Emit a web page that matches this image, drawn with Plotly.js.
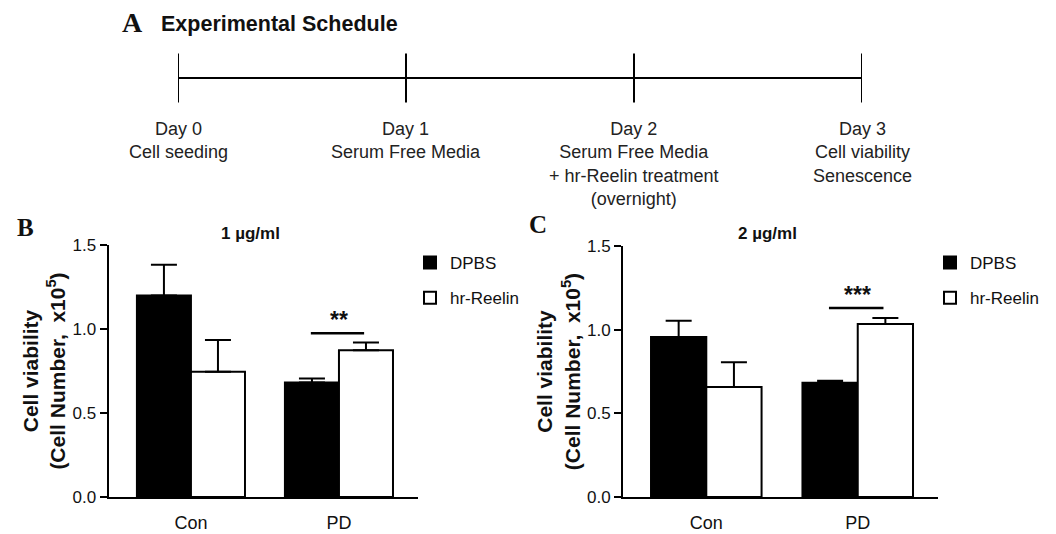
<!DOCTYPE html>
<html>
<head>
<meta charset="utf-8">
<script src="https://cdn.plot.ly/plotly-3.0.1.min.js"></script>
<style>
html,body{margin:0;padding:0;background:#fff;}
#chart{width:1056px;height:534px;}
</style>
</head>
<body>
<div id="chart"></div>
<script>
// ---------- DATA ----------
const days = [0, 1, 2, 3];
const dayLabels = ["Day 0", "Day 1", "Day 2", "Day 3"];
const dayDescriptions = [
  "Cell seeding",
  "Serum Free Media",
  "Serum Free Media<br>+ hr-Reelin treatment<br>(overnight)",
  "Cell viability<br>Senescence"
];
const categories = ["Con", "PD"];
const seriesNames = ["DPBS", "hr-Reelin"];

// Panel B: 1 µg/ml
const b_dpbs = [1.20, 0.681];
const b_dpbs_err = [0.183, 0.024];
const b_reelin = [0.745, 0.873];
const b_reelin_err = [0.189, 0.047];

// Panel C: 2 µg/ml
const c_dpbs = [0.956, 0.683];
const c_dpbs_err = [0.097, 0.012];
const c_reelin = [0.657, 1.034];
const c_reelin_err = [0.149, 0.036];

const yTickVals = [0, 0.5, 1.0, 1.5];
const yTickText = ["0.0", "0.5", "1.0", "1.5"];

// significance marks: category, height of line, label
const sigB = {cat: "PD", y: 0.975, label: "**"};
const sigC = {cat: "PD", y: 1.13, label: "***"};

// ---------- STYLE ----------
const SANS = "Liberation Sans, Arial, sans-serif";
const SERIF = "Liberation Serif, Times New Roman, serif";
const TXT = "#111";

function bar(y, err, name, fill, xa, ya, legend, group) {
  return {
    type: "bar", x: categories, y: y, name: name,
    xaxis: xa, yaxis: ya, legend: legend, legendgroup: group,
    marker: {color: fill, line: {color: "#000", width: 2}},
    error_y: {type: "data", symmetric: false, array: err,
              arrayminus: err.map(() => 0), color: "#000", thickness: 2, width: 13},
    hoverinfo: "skip"
  };
}

const traces = [
  bar(b_dpbs, b_dpbs_err, seriesNames[0], "#000", "x", "y", "legend", "g1"),
  bar(b_reelin, b_reelin_err, seriesNames[1], "#fff", "x", "y", "legend", "g2"),
  bar(c_dpbs, c_dpbs_err, seriesNames[0], "#000", "x2", "y2", "legend2", "g1"),
  bar(c_reelin, c_reelin_err, seriesNames[1], "#fff", "x2", "y2", "legend2", "g2"),
  {
    type: "scatter", mode: "lines+markers",
    x: days, y: days.map(() => 0), xaxis: "x3", yaxis: "y3",
    line: {color: "#000", width: 2},
    marker: {symbol: "line-ns", size: 35, line: {color: "#000", width: 2}},
    showlegend: false, hoverinfo: "skip"
  }
];

function yAxis(domain, anchor) {
  return {
    domain: domain, anchor: anchor, range: [0, 1.5],
    tickvals: yTickVals, ticktext: yTickText,
    showline: true, linecolor: "#000", linewidth: 2,
    ticks: "outside", ticklen: 7, tickwidth: 2, tickcolor: "#000",
    showgrid: false, zeroline: false,
    tickfont: {family: SANS, size: 17, color: TXT},
    title: {text: "<b>Cell viability<br>(Cell Number,  x10<sup>5</sup>)</b>",
            font: {family: SANS, size: 21, color: TXT}, standoff: 1}
  };
}
function xAxis(domain, anchor, range) {
  return {
    domain: domain, anchor: anchor, range: range, type: "category",
    showline: true, linecolor: "#000", linewidth: 2,
    ticks: "outside", ticklen: 8, tickcolor: "rgba(0,0,0,0)",
    showgrid: false, zeroline: false,
    tickfont: {family: SANS, size: 18, color: TXT}
  };
}

const annotations = [];
function paperText(text, x, y, font, xanchor) {
  annotations.push({text: text, xref: "paper", yref: "paper", x: x, y: y,
    xanchor: xanchor || "center", yanchor: "middle", showarrow: false, font: font});
}
paperText("<b>A</b>", 132/1056, 1 - 23/534, {family: SERIF, size: 28, color: TXT});
paperText("<b>Experimental Schedule</b>", 159/1056, 1 - 24/534, {family: SANS, size: 21.5, color: TXT}, "left");
paperText("<b>B</b>", 25/1056, 1 - 227/534, {family: SERIF, size: 25, color: TXT});
paperText("<b>C</b>", 538/1056, 1 - 224/534, {family: SERIF, size: 25, color: TXT});
paperText("<b>1 µg/ml</b>", 250/1056, 1 - 233/534, {family: SANS, size: 17, color: TXT});
paperText("<b>2 µg/ml</b>", 767/1056, 1 - 233/534, {family: SANS, size: 17, color: TXT});

days.forEach((d, i) => {
  annotations.push({
    text: dayLabels[i] + "<br>" + dayDescriptions[i],
    xref: "x3", yref: "paper", x: d, y: 1 - 117/534,
    xanchor: "center", yanchor: "top", align: "center", showarrow: false,
    font: {family: SANS, size: 18, color: "#222"}
  });
});

const shapes = [];
[[sigB, "x", "y"], [sigC, "x2", "y2"]].forEach(([s, xa, ya]) => {
  const ci = categories.indexOf(s.cat);
  shapes.push({type: "line", xref: xa, yref: ya, x0: ci - 0.19, x1: ci + 0.17,
               y0: s.y, y1: s.y, line: {color: "#000", width: 2.5}});
  annotations.push({text: "<b>" + s.label + "</b>", xref: xa, yref: ya, x: ci, y: s.y,
    xanchor: "center", yanchor: "bottom", yshift: -2, showarrow: false,
    font: {family: SANS, size: 23, color: TXT}});
});

const legendBase = {
  yanchor: "top", xanchor: "left", bgcolor: "rgba(0,0,0,0)",
  font: {family: SANS, size: 17, color: TXT},
  traceorder: "grouped", tracegroupgap: 10, itemwidth: 30
};

const layout = {
  width: 1056, height: 534,
  margin: {l: 0, r: 0, t: 0, b: 0},
  paper_bgcolor: "#fff", plot_bgcolor: "#fff",
  barmode: "group", bargap: 0.27, bargroupgap: 0,
  showlegend: true,
  xaxis: xAxis([108.5/1056, 418/1056], "y", [-0.557, 1.534]),
  yaxis: yAxis([1 - 497/534, 1 - 245/534], "x"),
  xaxis2: xAxis([623/1056, 938/1056], "y2", [-0.55, 1.53]),
  yaxis2: yAxis([1 - 497/534, 1 - 246/534], "x2"),
  xaxis3: {domain: [178/1056, 862/1056], anchor: "y3", range: [0, 3], visible: false},
  yaxis3: {domain: [1 - 108/534, 1 - 48/534], anchor: "x3", range: [-1, 1], visible: false},
  legend: Object.assign({x: 410/1056, y: 1 - 245/534}, legendBase),
  legend2: Object.assign({x: 930/1056, y: 1 - 245/534}, legendBase),
  annotations: annotations,
  shapes: shapes
};

Plotly.newPlot("chart", traces, layout, {displayModeBar: false, staticPlot: true});
</script>
</body>
</html>
